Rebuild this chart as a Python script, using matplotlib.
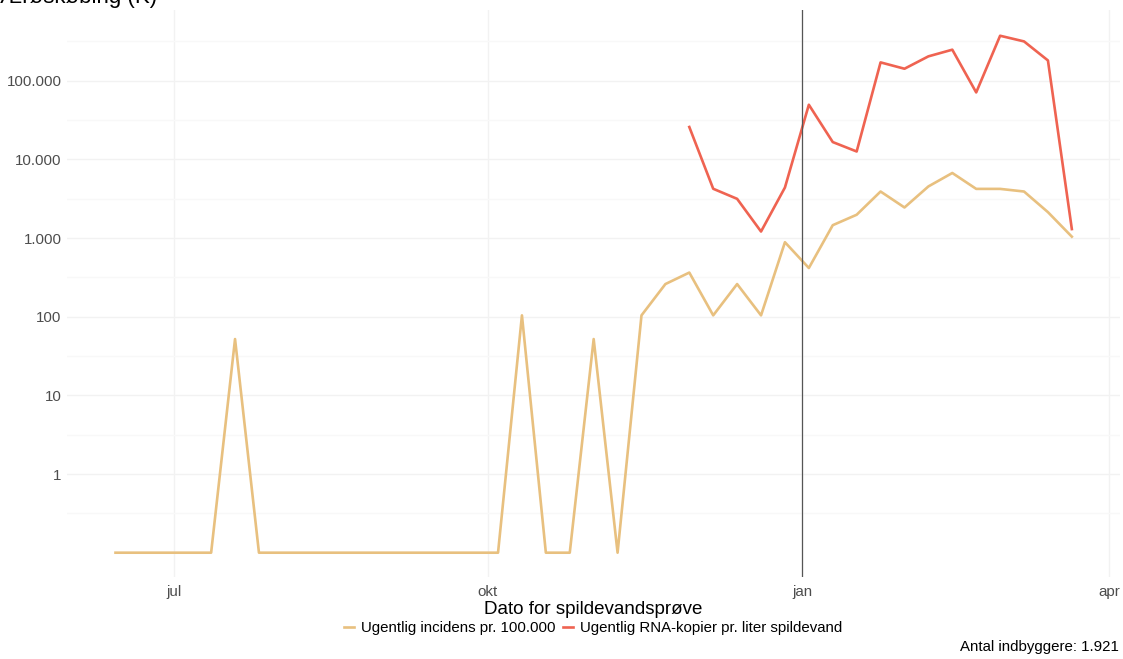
import numpy as np
import pandas as pd
import matplotlib
matplotlib.use("Agg")
import matplotlib.pyplot as plt
from matplotlib.ticker import FixedLocator, NullLocator

plt.rcParams['font.family'] = ['Liberation Sans', 'DejaVu Sans']

# weekly samples (mondays), 2021-06-14 .. 2022-03-21
dates = pd.date_range("2021-06-14", "2022-03-21", freq="7D")

incidens = [0, 0, 0, 0, 0, 52, 0, 0, 0, 0,
            0, 0, 0, 0, 0, 0, 0, 104, 0, 0,
            52, 0, 104, 260, 364, 104, 260, 104, 885, 416,
            1457, 1978, 3904, 2446, 4529, 6715, 4216, 4216, 3904, 2134,
            1041]

rna = [np.nan] * 24 + [25800, 4230, 3150, 1210, 4390, 49500, 16600, 12600,
                       171000, 142000, 204000, 248000, 71000, 373000, 316000,
                       181000, 1300]

y_ticks = [1, 10, 100, 1000, 10000, 100000]
y_labels = ["1", "10", "100", "1.000", "10.000", "100.000"]
x_ticks = pd.to_datetime(["2021-07-01", "2021-10-01", "2022-01-01", "2022-04-01"])
x_labels = ["jul", "okt", "jan", "apr"]

titel = "Ærøskøbing (K)"
navn_inc = "Ugentlig incidens pr. 100.000"
navn_rna = "Ugentlig RNA-kopier pr. liter spildevand"
indbyggere = "Antal indbyggere: 1.921"

W, H = 1123, 659
fig = plt.figure(figsize=(W / 100, H / 100), dpi=100)
ax = fig.add_axes([67 / W, (H - 577) / H, (1120 - 67) / W, (577 - 10) / H])

inc = np.array(incidens, dtype=float)
inc = np.where(inc == 0, 0.1, inc)  # nul vises i bunden

ax.plot(dates, inc, color="#E8C07F", lw=1.9, label=navn_inc)
ax.plot(dates, rna, color="#EF6351", lw=1.9, label=navn_rna)
ax.axvline(pd.Timestamp("2022-01-01"), color="#555555", lw=0.9)

ax.set_yscale("log")
ax.set_ylim(10 ** -1.309, 10 ** 5.899)
ax.set_xlim(pd.Timestamp("2022-01-01") - pd.Timedelta(days=215.2),
            pd.Timestamp("2022-01-01") + pd.Timedelta(days=93.1))

ax.yaxis.set_major_locator(FixedLocator(y_ticks))
ax.yaxis.set_minor_locator(FixedLocator([10 ** (k + 0.5) for k in range(-1, 6)]))
ax.set_yticklabels(y_labels)
ax.set_xticks(x_ticks)
ax.set_xticklabels(x_labels)
ax.xaxis.set_minor_locator(NullLocator())

ax.grid(True, which="major", color="#F2F2F2", lw=1)
ax.grid(True, which="minor", axis="y", color="#F8F8F8", lw=1)
ax.set_axisbelow(True)
for s in ax.spines.values():
    s.set_visible(False)
ax.tick_params(which="both", length=0, labelsize=10.9, labelcolor="#4D4D4D")
ax.tick_params(axis="y", pad=4)
ax.tick_params(axis="x", pad=6)

ax.set_xlabel("Dato for spildevandsprøve", fontsize=13.5, labelpad=1)

fig.text(0.0, (H - 3) / H, titel, fontsize=16, ha="left", va="baseline")

fig.legend(loc="center", bbox_to_anchor=(593 / W, (H - 628) / H), ncol=2,
           frameon=False, fontsize=10.8, handlelength=0.7, handletextpad=0.45,
           columnspacing=0.5, borderpad=0)

fig.text(1119 / W, (H - 647) / H, indbyggere, fontsize=10.8, ha="right", va="center")

fig.savefig("out.png", dpi=100)
